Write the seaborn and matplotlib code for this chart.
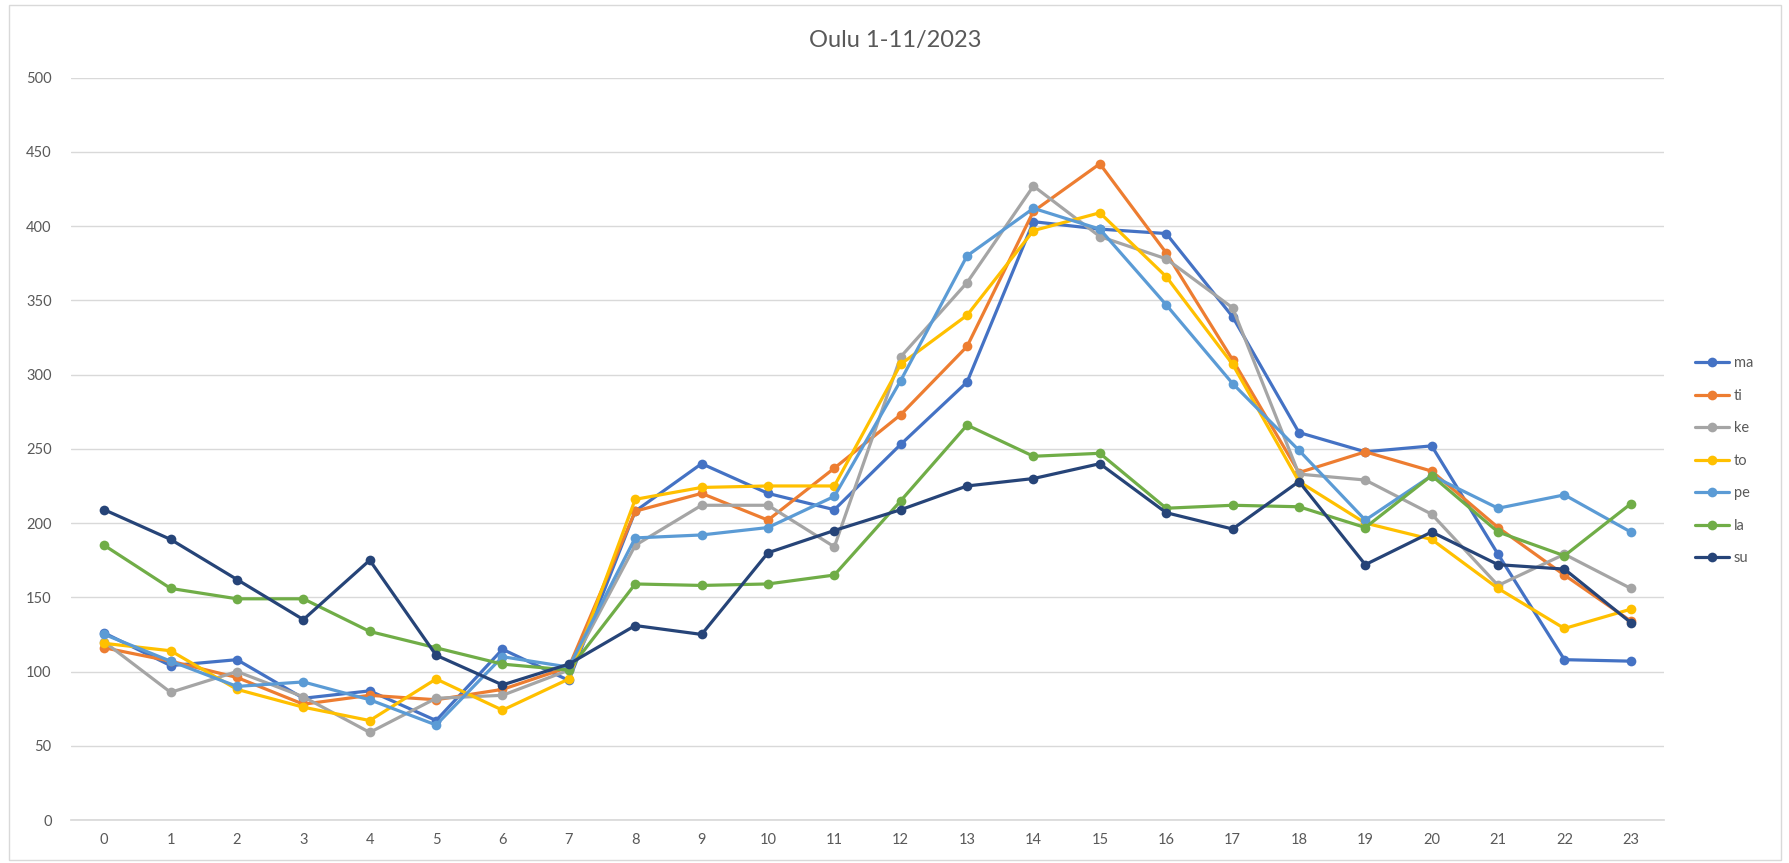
import pandas as pd
import seaborn as sns
import matplotlib.pyplot as plt
from matplotlib.patches import Rectangle

# hourly values per weekday
hours = list(range(24))
days = ['ma', 'ti', 'ke', 'to', 'pe', 'la', 'su']

ma = [126, 104, 108, 82, 87, 67, 115, 94, 208, 240, 220, 209,
      253, 295, 403, 398, 395, 339, 261, 248, 252, 179, 108, 107]
ti = [116, 107, 96, 78, 84, 81, 88, 103, 208, 220, 202, 237,
      273, 319, 410, 442, 382, 310, 234, 248, 235, 197, 165, 134]
ke = [120, 86, 100, 83, 59, 82, 84, 101, 185, 212, 212, 184,
      312, 362, 427, 393, 378, 345, 233, 229, 206, 158, 179, 156]
to = [119, 114, 88, 76, 67, 95, 74, 95, 216, 224, 225, 225,
      307, 340, 397, 409, 366, 307, 228, 200, 189, 156, 129, 142]
pe = [125, 107, 90, 93, 81, 64, 110, 103, 190, 192, 197, 218,
      296, 380, 412, 398, 347, 294, 249, 202, 232, 210, 219, 194]
la = [185, 156, 149, 149, 127, 116, 105, 101, 159, 158, 159, 165,
      215, 266, 245, 247, 210, 212, 211, 197, 232, 194, 178, 213]
su = [209, 189, 162, 135, 175, 111, 91, 105, 131, 125, 180, 195,
      209, 225, 230, 240, 207, 196, 228, 172, 194, 172, 169, 133]

series = [ma, ti, ke, to, pe, la, su]
colours = ['#4472C4', '#ED7D31', '#A5A5A5', '#FFC000', '#5B9BD5', '#70AD47', '#264478']

# long form table for seaborn
df = pd.DataFrame({
    'hour': hours * len(days),
    'day': [d for d in days for _ in hours],
    'value': [v for s in series for v in s],
})

sns.set_theme(style='white')
plt.rcParams['font.family'] = ['Lato', 'DejaVu Sans']

fig = plt.figure(figsize=(17.9, 8.63), dpi=100)
ax = fig.add_axes([0.0397, 0.0498, 0.8899, 0.8602])

sns.lineplot(data=df, x='hour', y='value', hue='day', hue_order=days,
             palette=colours, marker='o', markersize=7, markeredgewidth=0,
             linewidth=2.3, ax=ax)

ax.set_xlim(-0.5, 23.5)
ax.set_ylim(0, 500)
ax.set_xticks(hours)
ax.set_yticks(range(0, 501, 50))
ax.yaxis.grid(True, color='#D9D9D9', linewidth=1)
ax.set_axisbelow(True)
for side in ['top', 'right', 'left']:
    ax.spines[side].set_visible(False)
ax.spines['bottom'].set_color('#D9D9D9')
ax.tick_params(axis='both', length=0, labelsize=10.5, colors='#595959')
ax.tick_params(axis='y', pad=14)
ax.tick_params(axis='x', pad=9)
ax.set_xlabel('')
ax.set_ylabel('')

fig.suptitle('Oulu 1-11/2023', x=0.5, y=0.965, fontsize=17, color='#595959')

leg = ax.legend(loc='center left', bbox_to_anchor=(1.0196, 0.484), frameon=False,
                fontsize=10.5, handlelength=2.35, handletextpad=0.3, labelspacing=1.27,
                borderaxespad=0, borderpad=0)
for t in leg.get_texts():
    t.set_color('#595959')

# thin chart border like the Excel chart area
fig.patches.append(Rectangle((0.005, 0.004), 0.99, 0.99, transform=fig.transFigure,
                             fill=False, edgecolor='#D9D9D9', linewidth=1))

fig.savefig('out.png', dpi=100)
